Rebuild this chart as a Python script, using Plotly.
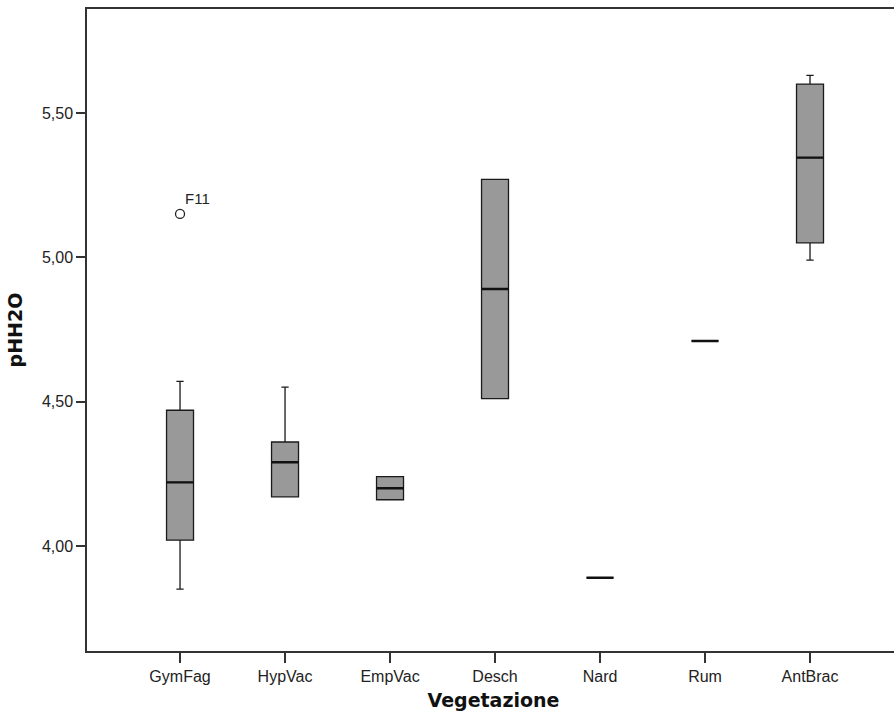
import plotly.graph_objects as go

# Vegetation groups and five-number summaries of pH (H2O)
categories = ["GymFag", "HypVac", "EmpVac", "Desch", "Nard", "Rum", "AntBrac"]
lower_whisker = [3.85, 4.17, 4.16, 4.51, 3.89, 4.71, 4.99]
q1_values = [4.02, 4.17, 4.16, 4.51, 3.89, 4.71, 5.05]
median_values = [4.22, 4.29, 4.20, 4.89, 3.89, 4.71, 5.345]
q3_values = [4.47, 4.36, 4.24, 5.27, 3.89, 4.71, 5.60]
upper_whisker = [4.57, 4.55, 4.24, 5.27, 3.89, 4.71, 5.63]

# Outlying observations
outlier_groups = ["GymFag"]
outlier_values = [5.15]
outlier_labels = ["F11"]

y_ticks = [4.0, 4.5, 5.0, 5.5]

tick_font = dict(family="Liberation Sans, Arial, sans-serif", size=16, color="#222222")
title_font = dict(family="DejaVu Sans, Verdana, sans-serif", size=19, color="#111111")

BOX_WIDTH = 0.257

fig = go.Figure()

# Boxes with whiskers
fig.add_trace(go.Box(
    x=categories,
    q1=q1_values,
    median=median_values,
    q3=q3_values,
    lowerfence=lower_whisker,
    upperfence=upper_whisker,
    boxpoints=False,
    width=BOX_WIDTH,
    whiskerwidth=0.27,
    fillcolor="#999999",
    line=dict(color="#1a1a1a", width=1.3),
    hoverinfo="skip",
    showlegend=False,
))

# Heavier median bars drawn as flat boxes at the median
fig.add_trace(go.Box(
    x=categories,
    q1=median_values,
    median=median_values,
    q3=median_values,
    lowerfence=median_values,
    upperfence=median_values,
    boxpoints=False,
    width=BOX_WIDTH,
    whiskerwidth=0,
    fillcolor="rgba(0,0,0,0)",
    line=dict(color="#111111", width=2.4),
    hoverinfo="skip",
    showlegend=False,
))

fig.add_trace(go.Scatter(
    x=outlier_groups,
    y=outlier_values,
    mode="markers",
    marker=dict(symbol="circle-open", size=9, color="#222222", line=dict(width=1.3)),
    hoverinfo="skip",
    showlegend=False,
))

for grp, val, lab in zip(outlier_groups, outlier_values, outlier_labels):
    fig.add_annotation(
        x=grp, y=val, text=lab, showarrow=False,
        xanchor="left", yanchor="middle", xshift=3, yshift=15,
        font=dict(family="Liberation Sans, Arial, sans-serif", size=15, color="#222222"),
    )

fig.update_layout(
    width=900, height=720,
    margin=dict(l=87, r=0, t=9, b=69),
    paper_bgcolor="white",
    plot_bgcolor="white",
    separators=",.",
    boxmode="overlay",
    xaxis=dict(
        type="category",
        categoryorder="array",
        categoryarray=categories,
        range=[-0.886, 6.857],
        showgrid=False, zeroline=False,
        showline=True, linecolor="#333333", linewidth=1.5, mirror=True,
        ticks="outside", ticklen=10, tickwidth=1.5, tickcolor="#333333",
        tickfont=tick_font,
        title=dict(text="<b>Vegetazione</b>", font=title_font, standoff=10),
    ),
    yaxis=dict(
        range=[3.636, 5.86],
        tickvals=y_ticks,
        tickformat=".2f",
        showgrid=False, zeroline=False,
        showline=True, linecolor="#333333", linewidth=1.5, mirror=False,
        ticks="outside", ticklen=9, tickwidth=1.5, tickcolor="#333333",
        tickfont=tick_font,
        title=dict(text="<b>pHH2O</b>", font=title_font, standoff=14),
    ),
)

fig.write_html(
    "out.html",
    post_script="document.documentElement.style.overflow='hidden';document.body.style.overflow='hidden';",
)
